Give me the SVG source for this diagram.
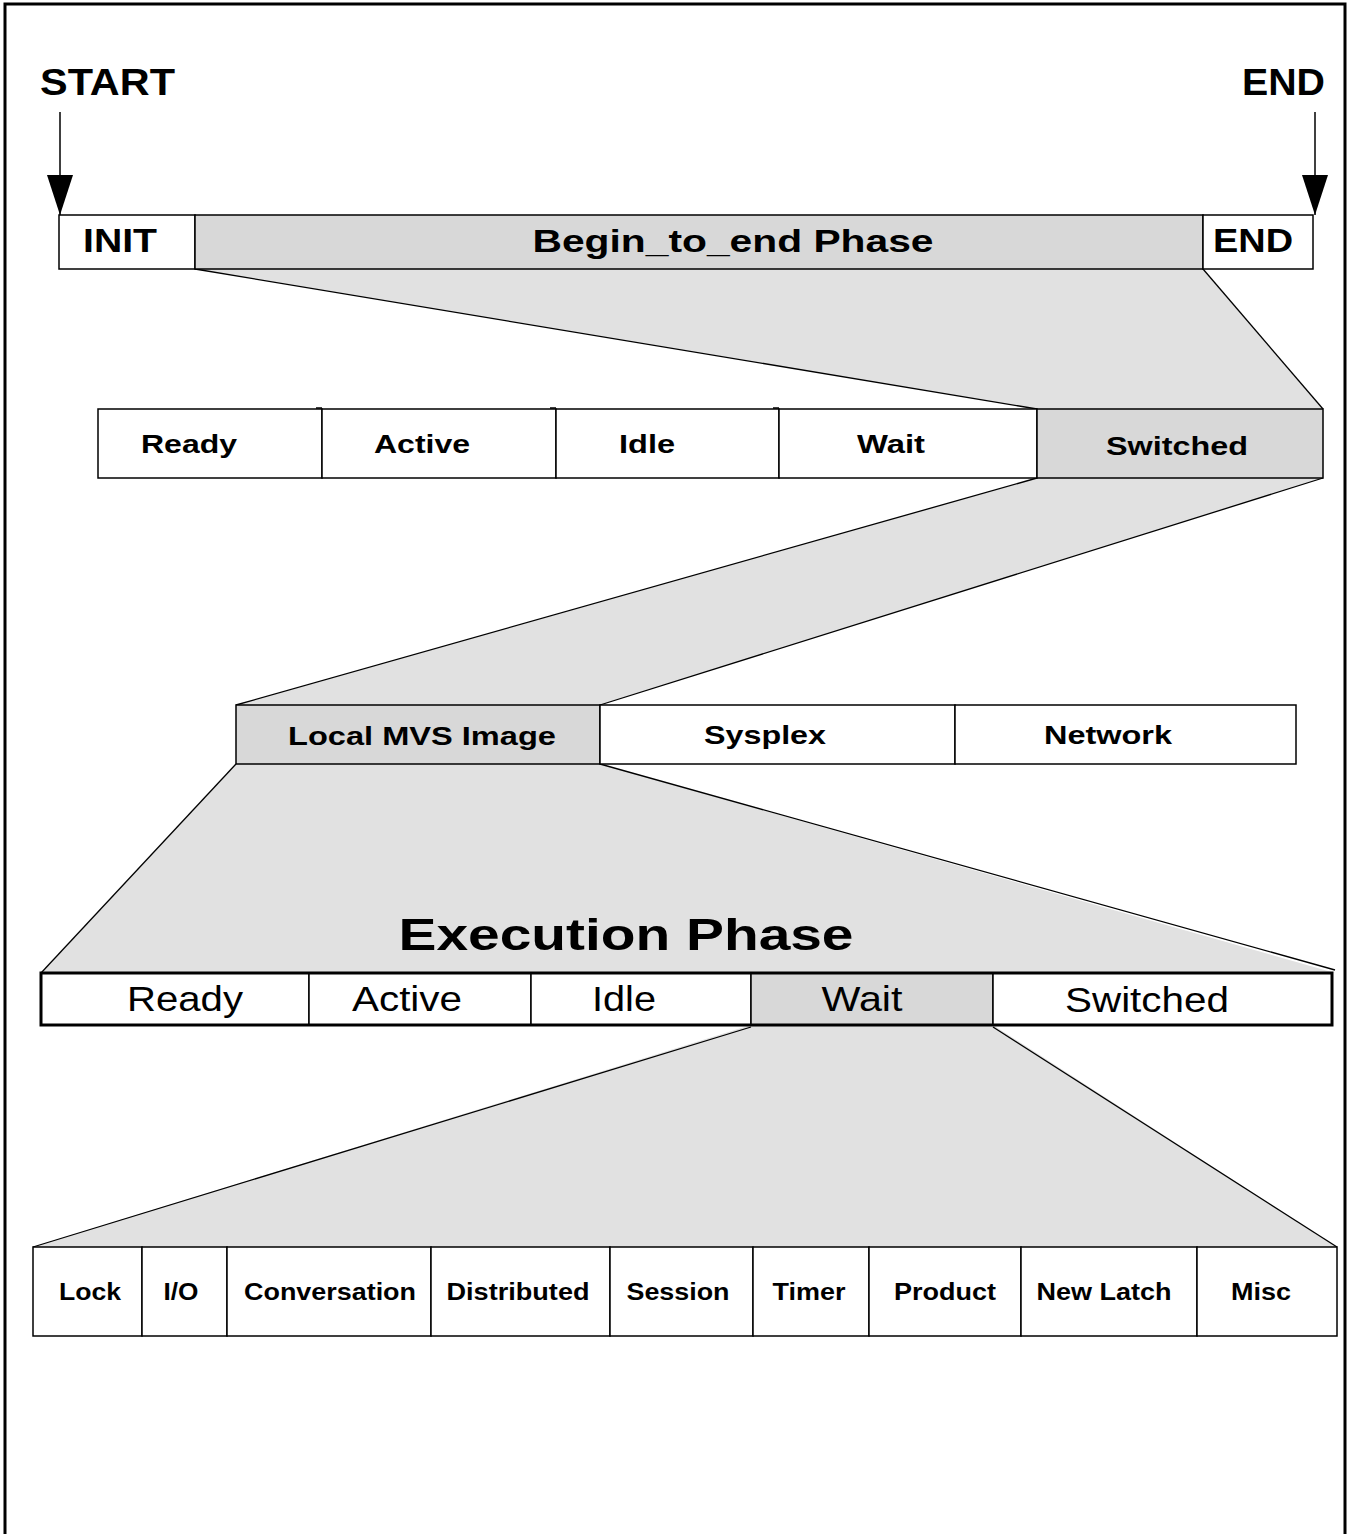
<svg xmlns="http://www.w3.org/2000/svg" width="1351" height="1534" viewBox="0 0 1351 1534">
<style>
  text { font-family: "Liberation Sans", Arial, Helvetica, sans-serif; fill: #000; text-anchor: middle; }
  .b { font-weight: bold; }
  .r { font-weight: normal; }
  .cell { fill: #fff; stroke: #000; stroke-width: 1.5; }
  .sel { fill: #d8d8d8; stroke: #000; stroke-width: 1.5; }
  .thick { fill: none; stroke: #000; stroke-width: 3; }
  .zoom { fill: #e1e1e1; stroke: none; }
  .edge { stroke: #000; stroke-width: 1.3; fill: none; }
  .arrow { stroke: #000; stroke-width: 1.5; fill: none; }
</style>
<defs>
  <marker id="head" viewBox="0 0 40 26" refX="40" refY="13" markerWidth="40" markerHeight="26" markerUnits="userSpaceOnUse" orient="auto">
    <path d="M0,0 L40,13 L0,26 z" fill="#000"/>
  </marker>
</defs>
<rect x="0" y="0" width="1351" height="1534" fill="#fff"/>
<rect x="5" y="4" width="1340" height="1560" fill="none" stroke="#000" stroke-width="3"/>

<g id="connectors">
  <polygon class="zoom" points="195,269 1203,269 1323,409 1037,409"/>
  <line class="edge" x1="195" y1="269" x2="1037" y2="409"/>
  <line class="edge" x1="1203" y1="269" x2="1323" y2="409"/>
  <polygon class="zoom" points="1037,478 1323,478 600,705 236,705"/>
  <line class="edge" x1="1037" y1="478" x2="236" y2="705"/>
  <line class="edge" x1="1323" y1="478" x2="600" y2="705"/>
  <polygon class="zoom" points="236,764 600,764 1335,973 41,973"/>
  <line class="edge" x1="236" y1="764" x2="41" y2="973"/>
  <line class="edge" x1="600" y1="764" x2="1335" y2="970"/>
  <polygon class="zoom" points="751,1025 993,1025 1337,1247 33,1247"/>
  <line class="edge" x1="751" y1="1027" x2="33" y2="1247"/>
  <line class="edge" x1="993" y1="1027" x2="1337" y2="1247"/>
  <line class="arrow" x1="60" y1="112" x2="60" y2="215" marker-end="url(#head)"/>
  <line class="arrow" x1="1315" y1="112" x2="1315" y2="215" marker-end="url(#head)"/>
</g>

<g id="start-label"><text class="b" x="107.5" y="95" font-size="36" textLength="135" lengthAdjust="spacingAndGlyphs">START</text></g>
<g id="end-label"><text class="b" x="1283.5" y="95" font-size="36" textLength="83" lengthAdjust="spacingAndGlyphs">END</text></g>

<g id="row1">
  <g id="init"><rect class="cell" x="59" y="215" width="136" height="54"/>
    <text class="b" x="120" y="252" font-size="33" textLength="74" lengthAdjust="spacingAndGlyphs">INIT</text></g>
  <g id="begin-to-end"><rect class="sel" x="195" y="215" width="1008" height="54"/>
    <text class="b" x="733" y="252" font-size="32" textLength="401" lengthAdjust="spacingAndGlyphs">Begin_to_end Phase</text></g>
  <g id="end"><rect class="cell" x="1203" y="215" width="110" height="54"/>
    <text class="b" x="1253" y="252" font-size="33" textLength="80" lengthAdjust="spacingAndGlyphs">END</text></g>
</g>

<g id="row2">
  <g id="r2-ready"><rect class="cell" x="98" y="409" width="224" height="69"/>
    <text class="b" x="189" y="453" font-size="26" textLength="96" lengthAdjust="spacingAndGlyphs">Ready</text></g>
  <g id="r2-active"><rect class="cell" x="322" y="409" width="234" height="69"/>
    <text class="b" x="422" y="453" font-size="26" textLength="96" lengthAdjust="spacingAndGlyphs">Active</text></g>
  <g id="r2-idle"><rect class="cell" x="556" y="409" width="223" height="69"/>
    <text class="b" x="647" y="453" font-size="26" textLength="56" lengthAdjust="spacingAndGlyphs">Idle</text></g>
  <g id="r2-wait"><rect class="cell" x="779" y="409" width="258" height="69"/>
    <text class="b" x="891" y="453" font-size="26" textLength="68" lengthAdjust="spacingAndGlyphs">Wait</text></g>
  <g id="r2-switched"><rect class="sel" x="1037" y="409" width="286" height="69"/>
    <text class="b" x="1177" y="455" font-size="26" textLength="142" lengthAdjust="spacingAndGlyphs">Switched</text></g>
  <path class="edge" d="M316,408 H322 M550,408 H556 M773,408 H779"/>
</g>

<g id="row3">
  <g id="local-mvs"><rect class="sel" x="236" y="705" width="364" height="59"/>
    <text class="b" x="422" y="745" font-size="26" textLength="268" lengthAdjust="spacingAndGlyphs">Local MVS Image</text></g>
  <g id="sysplex"><rect class="cell" x="600" y="705" width="355" height="59"/>
    <text class="b" x="765" y="744" font-size="26" textLength="122" lengthAdjust="spacingAndGlyphs">Sysplex</text></g>
  <g id="network"><rect class="cell" x="955" y="705" width="341" height="59"/>
    <text class="b" x="1108" y="744" font-size="26" textLength="128" lengthAdjust="spacingAndGlyphs">Network</text></g>
</g>

<g id="execution-title"><text class="b" x="626" y="950" font-size="45" textLength="455" lengthAdjust="spacingAndGlyphs">Execution Phase</text></g>

<g id="row4">
  <g id="r4-ready"><rect class="cell" x="41" y="973" width="268" height="52"/>
    <text class="r" x="185" y="1011" font-size="35" textLength="116" lengthAdjust="spacingAndGlyphs">Ready</text></g>
  <g id="r4-active"><rect class="cell" x="309" y="973" width="222" height="52"/>
    <text class="r" x="407" y="1011" font-size="35" textLength="110" lengthAdjust="spacingAndGlyphs">Active</text></g>
  <g id="r4-idle"><rect class="cell" x="531" y="973" width="220" height="52"/>
    <text class="r" x="624" y="1011" font-size="35" textLength="64" lengthAdjust="spacingAndGlyphs">Idle</text></g>
  <g id="r4-wait"><rect class="sel" x="751" y="973" width="242" height="52"/>
    <text class="r" x="862" y="1011" font-size="35" textLength="81" lengthAdjust="spacingAndGlyphs">Wait</text></g>
  <g id="r4-switched"><rect class="cell" x="993" y="973" width="339" height="52"/>
    <text class="r" x="1147" y="1012" font-size="35" textLength="164" lengthAdjust="spacingAndGlyphs">Switched</text></g>
  <rect class="thick" x="41" y="973" width="1291" height="52"/>
</g>

<g id="row5">
  <g id="lock"><rect class="cell" x="33" y="1247" width="109" height="89"/>
    <text class="b" x="90" y="1300" font-size="23" textLength="62" lengthAdjust="spacingAndGlyphs">Lock</text></g>
  <g id="io"><rect class="cell" x="142" y="1247" width="85" height="89"/>
    <text class="b" x="181" y="1300" font-size="23" textLength="35" lengthAdjust="spacingAndGlyphs">I/O</text></g>
  <g id="conversation"><rect class="cell" x="227" y="1247" width="204" height="89"/>
    <text class="b" x="330" y="1300" font-size="23" textLength="172" lengthAdjust="spacingAndGlyphs">Conversation</text></g>
  <g id="distributed"><rect class="cell" x="431" y="1247" width="179" height="89"/>
    <text class="b" x="518" y="1300" font-size="23" textLength="143" lengthAdjust="spacingAndGlyphs">Distributed</text></g>
  <g id="session"><rect class="cell" x="610" y="1247" width="143" height="89"/>
    <text class="b" x="678" y="1300" font-size="23" textLength="103" lengthAdjust="spacingAndGlyphs">Session</text></g>
  <g id="timer"><rect class="cell" x="753" y="1247" width="116" height="89"/>
    <text class="b" x="809" y="1300" font-size="23" textLength="73" lengthAdjust="spacingAndGlyphs">Timer</text></g>
  <g id="product"><rect class="cell" x="869" y="1247" width="152" height="89"/>
    <text class="b" x="945" y="1300" font-size="23" textLength="102" lengthAdjust="spacingAndGlyphs">Product</text></g>
  <g id="new-latch"><rect class="cell" x="1021" y="1247" width="176" height="89"/>
    <text class="b" x="1104" y="1300" font-size="23" textLength="135" lengthAdjust="spacingAndGlyphs">New Latch</text></g>
  <g id="misc"><rect class="cell" x="1197" y="1247" width="140" height="89"/>
    <text class="b" x="1261" y="1300" font-size="23" textLength="60" lengthAdjust="spacingAndGlyphs">Misc</text></g>
</g>
</svg>
